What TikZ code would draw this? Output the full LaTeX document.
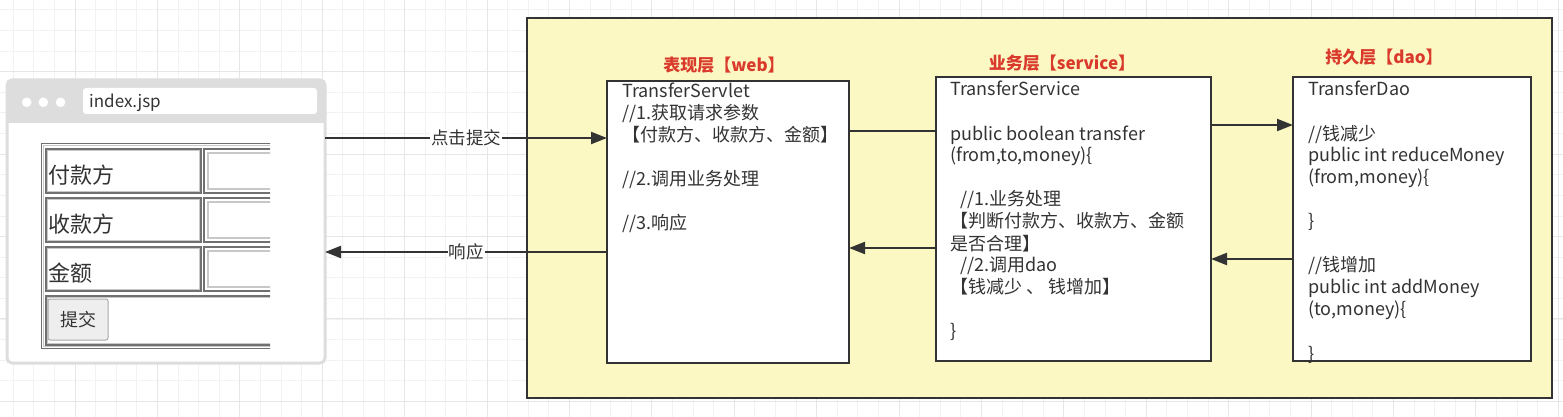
\documentclass[tikz,border=0pt]{standalone}
\usepackage{fontspec}
\setmainfont{Noto Sans CJK SC}
\usetikzlibrary{arrows.meta}
\definecolor{ink}{HTML}{333333}
\definecolor{gridminor}{HTML}{F2F2F2}
\definecolor{gridmajor}{HTML}{E6E6E6}
\definecolor{browsergray}{HTML}{DDDDDD}
\definecolor{yellowbg}{HTML}{FCF8C4}
\definecolor{layerred}{HTML}{D93A2B}
\definecolor{celldark}{HTML}{707070}
\definecolor{celllight}{HTML}{C8C8C8}
\definecolor{btnfill}{HTML}{EEEEEE}
\definecolor{btnline}{HTML}{A8A8A8}
\newcommand\codelines[1]{\vtop{\halign{##\hfil\cr#1\crcr}}}
\begin{document}
\begin{tikzpicture}[x=1pt,y=-1pt,
  box/.style={draw=ink, line width=2.5pt, fill=white, outer sep=0pt, inner sep=0pt},
  code/.style={anchor=base west, inner sep=0pt, text=ink, font=\fontsize{18}{22}\selectfont},
  layerlabel/.style={anchor=base, inner sep=0pt, text=layerred, font=\fontsize{17}{20}\selectfont\bfseries},
  conn/.style={draw=ink, line width=2.3pt},
  arr/.style={conn, -{Triangle[length=16pt,width=12pt]}},
  lbl/.style={fill=white, inner sep=1pt, text=ink, font=\fontsize{17.5}{20}\selectfont},
  formtext/.style={anchor=base west, inner sep=0pt, text=ink, font=\fontsize{22}{24}\selectfont},
]
\useasboundingbox (0,0) rectangle (1563,417);
\fill[white] (0,0) rectangle (1563,417);
% grid
\foreach \i in {0,...,76} \draw[gridminor, line width=1pt] (13.2+\i*20.6,0) -- (13.2+\i*20.6,417);
\foreach \i in {0,...,20} \draw[gridminor, line width=1pt] (0,10+\i*20.6) -- (1563,10+\i*20.6);
\foreach \i in {0,...,18} \draw[gridmajor, line width=1pt] (75+\i*82.4,0) -- (75+\i*82.4,417);
\foreach \i in {0,...,4} \draw[gridmajor, line width=1pt] (0,71.7+\i*82.4) -- (1563,71.7+\i*82.4);

% browser window
\node[draw=browsergray, line width=3pt, rounded corners=5pt, fill=white, outer sep=0pt,
      minimum width=318pt, minimum height=283pt] (browser) at (166,221.5) {};
\fill[browsergray, rounded corners=5pt] (7,80) rectangle (325,123);
\fill[browsergray] (7,110) rectangle (325,123);
\fill[white] (26.7,102.3) circle (4.8);
\fill[white] (43.3,102.3) circle (4.8);
\fill[white] (60.5,102.3) circle (4.8);
\node[fill=white, rounded corners=3pt, minimum width=234pt, minimum height=26pt, inner sep=0pt] (addr) at (200,101) {};
\node[anchor=base west, inner sep=0pt, text=ink, font=\fontsize{17}{20}\selectfont] (url) at (89,108) {index.jsp};

% form table (cropped screenshot)
\begin{scope}
\clip (39,140) rectangle (270,352);
\draw[celldark, line width=1.5pt] (41.5,143.5) rectangle (320,348.5);
\draw[celllight, line width=1pt] (43.5,145.5) rectangle (318,346.5);
\foreach \y/\h in {149/44,198/44,247/44} {
  \draw[celldark, line width=1.6pt] (46,\y) rectangle (201,\y+\h);
  \draw[celllight, line width=1pt] (47.8,\y+1.8) rectangle (199.2,\y+\h-1.8);
  \draw[celldark, line width=1.6pt] (204,\y) rectangle (320,\y+\h);
  \draw[celllight, line width=2pt] (208,\y+4) rectangle (316,\y+\h-4);
}
\draw[celldark, line width=1.6pt] (46,296) rectangle (320,345);
\draw[celllight, line width=1pt] (47.8,297.8) rectangle (318,343.2);
\end{scope}
\node[formtext] (payer) at (48,183) {付款方};
\node[formtext] (payee) at (48,232) {收款方};
\node[formtext] (amount) at (48,281) {金额};
\node[fill=btnfill, draw=btnline, line width=1pt, rounded corners=2pt, minimum width=60pt, minimum height=41pt,
      inner sep=0pt, text=ink, font=\fontsize{18}{20}\selectfont] (btn) at (78,319.5) {提交};

% layer container
\node[draw=ink, line width=2.5pt, fill=yellowbg, outer sep=0pt, minimum width=1025pt, minimum height=380pt] (layer) at (1039.5,208) {};

% boxes
\node[box, minimum width=242pt, minimum height=282pt] (web) at (728,222) {};
\node[box, minimum width=275pt, minimum height=284pt] (service) at (1073.5,219) {};
\node[box, minimum width=238pt, minimum height=284pt] (dao) at (1412,219) {};

% layer labels
\node[layerlabel] (weblbl) at (724,72) {表现层【web】};
\node[layerlabel] (servicelbl) at (1062,70) {业务层【service】};
\node[layerlabel] (daolbl) at (1384,64) {持久层【dao】};

% box texts
\node[code] (webtxt) at (622,98) {\codelines{TransferServlet\cr
//1.获取请求参数\cr
【付款方、收款方、金额】\cr
\cr
//2.调用业务处理\cr
\cr
//3.响应}};
\node[code] (servicetxt) at (950,96) {\codelines{TransferService\cr
\cr
public boolean transfer\cr
(from,to,money)\{\cr
\cr
\hspace*{10pt}//1.业务处理\cr
【判断付款方、收款方、金额\cr
是否合理】\cr
\hspace*{10pt}//2.调用dao\cr
【钱减少 、 钱增加】\cr
\cr
\}}};
\node[code] (daotxt) at (1308,96) {\codelines{TransferDao\cr
\cr
//钱减少\cr
public int reduceMoney\cr
(from,money)\{\cr
\cr
\}\cr
\cr
//钱增加\cr
public int addMoney\cr
(to,money)\{\cr
\cr
\}}};
\draw[ink, line width=2.5pt] (dao.south west) -- (dao.south east);

% connectors
\draw[arr] (browser.east |- 0,138) -- node[lbl] (submitlbl) {点击提交} (web.west |- 0,138);
\draw[arr] (web.west |- 0,252) -- node[lbl] (resplbl) {响应} (browser.east |- 0,252);
\draw[conn] (web.east |- 0,131) -- (service.west |- 0,131);
\draw[arr] (service.west |- 0,248) -- (web.east |- 0,248);
\draw[arr] (service.east |- 0,125) -- (dao.west |- 0,125);
\draw[arr] (dao.west |- 0,259) -- (service.east |- 0,259);
\end{tikzpicture}
\end{document}
